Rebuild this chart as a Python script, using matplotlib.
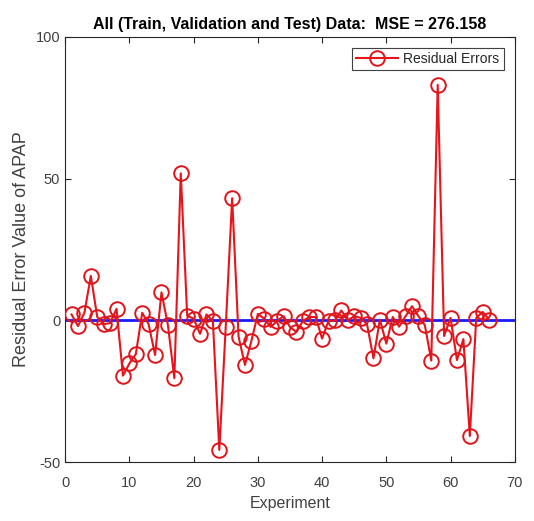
import matplotlib
matplotlib.use("Agg")
import matplotlib.pyplot as plt
import numpy as np

plt.rcParams['font.family'] = ['Liberation Sans', 'DejaVu Sans']
plt.rcParams['axes.unicode_minus'] = False

experiment = list(range(1, 67))
residuals = [
    2.1, -2.0, 2.7, 15.7, 1.2, -1.4, -0.9, 4.1, -19.5, -15.2,
    -11.9, 2.7, -1.4, -12.2, 9.9, -1.7, -20.4, 51.9, 1.7, 0.6,
    -4.7, 2.1, -0.2, -45.7, -2.3, 43.1, -5.8, -15.7, -7.2, 2.3,
    0.6, -2.3, -0.2, 1.5, -2.3, -4.1, -0.2, 1.2, 1.2, -6.4,
    -0.2, 0.0, 3.5, 0.0, 1.5, 0.9, -1.4, -13.4, 0.3, -8.2,
    1.2, -2.2, 1.5, 5.0, 1.5, -1.7, -14.2, 83.1, -5.5, 0.9,
    -14.0, -6.6, -40.8, 0.9, 3.0, 0.3,
]
zero_x = [0, 70]
zero_y = [0, 0]

fig = plt.figure(figsize=(5.34, 5.21), dpi=100)
ax = fig.add_axes([0.122, 0.113, 0.842, 0.816])

ax.plot(experiment, residuals, color='#e8141a', lw=1.5, marker='o', markersize=10.5,
        markerfacecolor='none', markeredgecolor='#e0141a', markeredgewidth=1.4,
        label='Residual Errors', zorder=3)
ax.plot(zero_x, zero_y, color='#1a1aff', lw=2, zorder=2)

ax.set_xlim(0, 70)
ax.set_ylim(-50, 100)
ax.set_xticks(np.arange(0, 71, 10))
ax.set_yticks([-50, 0, 50, 100])
ax.tick_params(direction='in', top=True, right=True, labelsize=10.5, length=4,
               color='#262626', labelcolor='#404040')
ax.tick_params(axis='x', pad=10)
for s in ax.spines.values():
    s.set_color('#262626')

ax.set_xlabel('Experiment', fontsize=11.5, color='#404040', labelpad=4)
ax.set_ylabel('Residual Error Value of APAP', fontsize=13, color='#404040', labelpad=4)
ax.set_title('All (Train, Validation and Test) Data:  MSE = 276.158', fontsize=11.5,
             fontweight='bold', pad=6)

leg = ax.legend(loc='upper right', fontsize=10, fancybox=False, edgecolor='#404040',
                framealpha=1, handlelength=3, borderpad=0.3, borderaxespad=0.8,
                handletextpad=0.4)
leg.get_frame().set_linewidth(0.8)
for t in leg.get_texts():
    t.set_color('#262626')

fig.savefig('out.png', dpi=100)
